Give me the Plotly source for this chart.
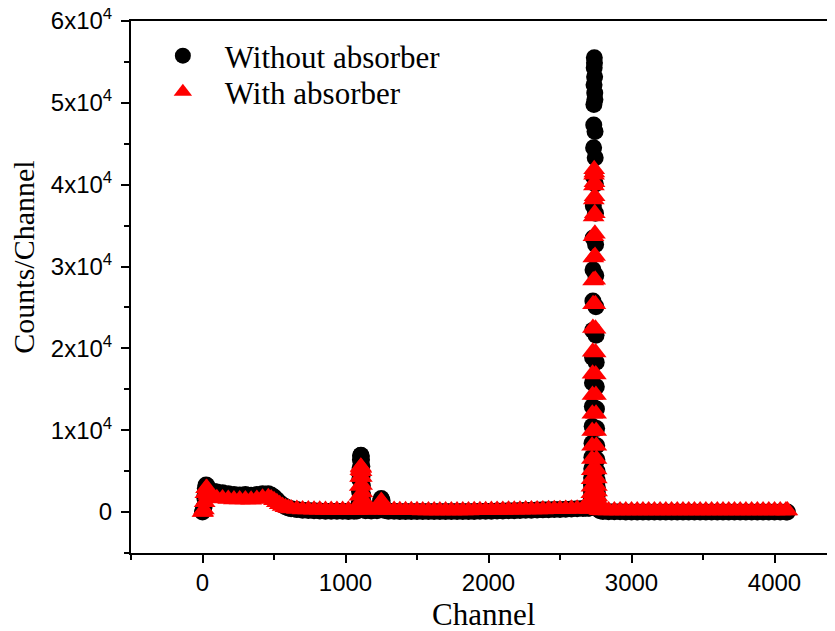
import plotly.graph_objects as go

# ---------------- data ----------------
channel = [
    0, 5, 10, 15, 20, 25, 30, 35, 40, 50, 60, 80, 100, 140, 180, 220, 260, 300,
    340, 380, 420, 460, 480, 500, 520, 540, 560, 580, 600, 620, 660, 700, 740,
    780, 820, 860, 900, 940, 980, 1020, 1060, 1080,
    1090, 1095, 1098, 1100, 1102, 1104, 1106, 1108, 1110, 1112, 1114, 1116,
    1118, 1120, 1122, 1125, 1130, 1140, 1180, 1220,
    1235, 1240, 1245, 1250, 1255, 1260, 1265, 1275, 1300,
    1340, 1380, 1420, 1460, 1500, 1540, 1580, 1620, 1660, 1700, 1740, 1780,
    1820, 1860, 1900, 1940, 1980, 2020, 2060, 2100, 2140, 2180, 2220, 2260,
    2300, 2340, 2380, 2420, 2460, 2500, 2540, 2580, 2620, 2660, 2680, 2700,
    2705, 2710, 2714,
    2716, 2717, 2718, 2719, 2720, 2721, 2722, 2723, 2724, 2725, 2726, 2727,
    2728, 2729, 2730, 2731, 2732, 2733, 2734, 2735, 2736, 2737, 2738, 2739,
    2740, 2741, 2742, 2743, 2744, 2745, 2746, 2747, 2748, 2749, 2750, 2751,
    2752, 2753, 2754, 2755, 2756, 2757, 2758, 2759, 2760, 2761, 2762,
    2764, 2766, 2768, 2775, 2780,
    2800, 2840, 2880, 2920, 2960, 3000, 3040, 3080, 3120, 3160, 3200, 3240,
    3280, 3320, 3360, 3400, 3440, 3480, 3520, 3560, 3600, 3640, 3680, 3720,
    3760, 3800, 3840, 3880, 3920, 3960, 4000, 4040, 4080, 4090,
]

without_absorber = [
    0, 150, 600, 1800, 2900, 3300, 3250, 3000, 2750, 2600, 2550, 2500, 2450,
    2350, 2250, 2150, 2100, 2150, 2050, 2150, 2250, 2250, 2100, 1850, 1500,
    1150, 850, 650, 500, 400, 300, 220, 180, 150, 130, 110, 100, 90, 90, 80,
    90, 120,
    300, 1000, 2500, 4000, 5400, 6400, 6900, 6950, 6800, 6400, 5600, 4400,
    3200, 2100, 1300, 650, 300, 150, 120, 150,
    400, 800, 1350, 1650, 1450, 900, 450, 180, 100,
    90, 80, 80, 70, 70, 60, 60, 60, 60, 60, 60, 60,
    70, 70, 80, 90, 100, 110, 120, 130, 150, 170, 190, 210,
    230, 250, 270, 290, 310, 330, 350, 380, 410, 440, 460, 480,
    500, 520, 550,
    900, 1300, 1800, 2600, 3300, 4200, 5300, 6700, 8400, 10500, 12900, 15800,
    18900, 22200, 25800, 29600, 33500, 37400, 41000, 44500, 47300, 49800,
    52200, 54300,
    55500, 54900, 53200, 51200, 50400, 46500, 43300, 40100, 36500, 32700,
    28900, 25100,
    21600, 18300, 15300, 12600, 10200, 8100, 6400, 5000, 3900, 3000, 2200,
    1300, 750, 450, 250, 150,
    60, 40, 30, 30, 20, 20, 20, 10, 10, 10, 10, 10,
    10, 10, 10, 10, 10, 10, 10, 10, 10, 10, 10, 10,
    10, 10, 10, 10, 10, 10, 10, 10, 10, 10,
]

with_absorber = [
    0, 50, 300, 1200, 2300, 2900, 2950, 2500, 2100, 1900, 1800, 1750, 1700,
    1650, 1600, 1550, 1550, 1550, 1500, 1600, 1750, 1800, 1650, 1450, 1200,
    950, 750, 600, 500, 450, 380, 330, 300, 280, 270, 260, 250, 250, 240, 240,
    250, 260,
    300, 800, 2000, 3200, 4300, 5100, 5500, 5550, 5400, 5000, 4300, 3300,
    2400, 1600, 1000, 550, 330, 280, 270, 280,
    450, 750, 1150, 1350, 1200, 800, 450, 280, 250,
    240, 230, 220, 220, 210, 200, 200, 190, 190, 190, 190, 190,
    200, 200, 210, 220, 230, 240, 250, 260, 270, 280, 290, 300,
    310, 320, 330, 340, 350, 360, 380, 400, 420, 440, 450, 460,
    450, 400, 400,
    800, 1200, 1700, 2300, 3100, 4000, 5100, 6500, 8100, 9900, 12000, 14300,
    16900, 19600, 22500, 25400, 28300, 31100, 33700, 36100, 38200, 39900,
    41200, 41900,
    41500, 40300, 38600, 36500, 34000, 31300, 28400, 25400, 22400, 19500,
    16800, 14300,
    12000, 9900, 8100, 6500, 5200, 4100, 3200, 2500, 1900, 1500, 1200,
    900, 650, 400, 280, 230,
    200, 200, 200, 200, 200, 200, 200, 200, 200, 200, 200, 200,
    200, 200, 200, 200, 200, 200, 200, 200, 200, 200, 200, 200,
    200, 200, 200, 200, 200, 200, 200, 200, 200, 200,
]

y_tick_values = [0, 10000, 20000, 30000, 40000, 50000, 60000]
y_tick_labels = ["0", "1x10<sup>4</sup>", "2x10<sup>4</sup>", "3x10<sup>4</sup>",
                 "4x10<sup>4</sup>", "5x10<sup>4</sup>", "6x10<sup>4</sup>"]
x_tick_values = [0, 1000, 2000, 3000, 4000]

# ---------------- figure ----------------
# the page body has an 8px margin; the figure is sized/offset to compensate
fig = go.Figure()
fig.add_trace(go.Scatter(
    x=channel, y=without_absorber, mode="markers", name="Without absorber",
    marker=dict(symbol="circle", size=17, color="black", line=dict(width=0)),
    legend="legend",
))
fig.add_trace(go.Scatter(
    x=channel, y=with_absorber, mode="markers", name="With absorber",
    marker=dict(symbol="triangle-up", size=19, color="#ff0000", line=dict(width=0)),
    legend="legend2",
))

tick_font = dict(family="Liberation Sans, Arial, sans-serif", size=24, color="black")
serif = "Liberation Serif, Times New Roman, serif"
title_font = dict(family=serif, size=31, color="black")
legend_common = dict(
    xanchor="left", yanchor="top",
    font=dict(family=serif, size=31, color="black"),
    bgcolor="rgba(0,0,0,0)", itemwidth=74,
)

fig.update_layout(
    width=827, height=623,
    margin=dict(l=123, r=0, t=13, b=78),
    paper_bgcolor="white", plot_bgcolor="white",
    showlegend=True,
    legend=dict(x=0.014, y=0.985, **legend_common),
    legend2=dict(x=0.014, y=0.917, **legend_common),
    xaxis=dict(
        range=[-500, 4423], tickvals=x_tick_values, ticktext=[str(v) for v in x_tick_values],
        showline=True, linecolor="black", linewidth=2, mirror=True,
        ticks="outside", ticklen=8, tickwidth=2, tickcolor="black",
        minor=dict(dtick=500, tick0=0, ticks="outside", ticklen=5, tickwidth=2, tickcolor="black"),
        showgrid=False, zeroline=False, tickfont=tick_font, ticklabelstandoff=-1,
        ticklabeloverflow="allow", automargin=False,
    ),
    yaxis=dict(
        range=[-5000, 60000], tickvals=y_tick_values, ticktext=y_tick_labels,
        showline=True, linecolor="black", linewidth=2, mirror=False,
        ticks="outside", ticklen=8, tickwidth=2, tickcolor="black",
        minor=dict(dtick=5000, tick0=0, ticks="outside", ticklen=5, tickwidth=2, tickcolor="black"),
        showgrid=False, zeroline=False, tickfont=tick_font, ticklabelstandoff=4,
        ticklabeloverflow="allow", automargin=False,
    ),
    annotations=[
        dict(text="Channel", xref="paper", yref="paper", x=0.5007, y=-0.1165,
             xanchor="center", yanchor="middle", showarrow=False, font=title_font),
        dict(text="Counts/Channel", xref="paper", yref="paper", x=-0.152, y=0.557,
             xanchor="center", yanchor="middle", textangle=-90, showarrow=False,
             font=dict(family=serif, size=30, color="black")),
    ],
)

fig.write_html("out.html")
